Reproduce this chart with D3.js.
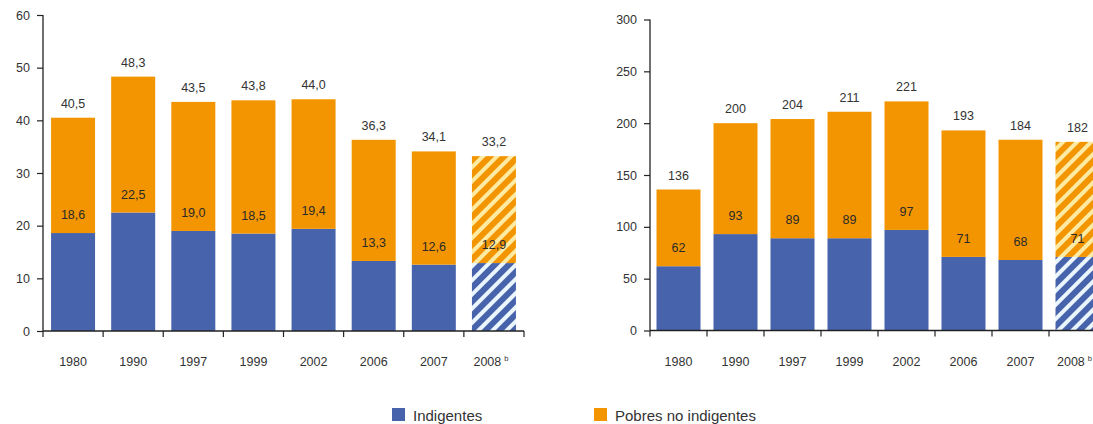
<!DOCTYPE html>
<html><head><meta charset="utf-8">
<script src="https://cdn.jsdelivr.net/npm/d3@7/dist/d3.min.js"></script>
<style>
body{margin:0;background:#fff;}
svg{display:block;font-family:"Liberation Sans",Arial,sans-serif;}
</style></head>
<body><svg id="c" width="1093" height="424"></svg>
<script>
const years = ["1980","1990","1997","1999","2002","2006","2007","2008"];
const projected = [false,false,false,false,false,false,false,true];
const leftTotal = [40.5,48.3,43.5,43.8,44.0,36.3,34.1,33.2];
const leftIndig = [18.6,22.5,19.0,18.5,19.4,13.3,12.6,12.9];
const rightTotal = [136,200,204,211,221,193,184,182];
const rightIndig = [62,93,89,89,97,71,68,71];
const leftTicks = [0,10,20,30,40,50,60];
const rightTicks = [0,50,100,150,200,250,300];
const seriesNames = ["Indigentes","Pobres no indigentes"];
const colors = ["#4763AB","#F39500"];
const lightStripe = ["#EAF5FC","#FDEBA4"];

const svg = d3.select("#c");
const defs = svg.append("defs");
colors.forEach((c,i)=>{
  const p = defs.append("pattern").attr("id","hatch"+i).attr("patternUnits","userSpaceOnUse")
    .attr("width",10).attr("height",10).attr("patternTransform","rotate(45)");
  p.append("rect").attr("width",10).attr("height",10).attr("fill",c);
  p.append("rect").attr("width",4).attr("height",10).attr("fill",lightStripe[i]);
});

function chart(cfg){
  const {x0,x1,yBottom,yTop,max,ticks,total,indig,fmt,padding} = cfg;
  const g = svg.append("g");
  const x = d3.scaleBand().domain(years).range([x0,x1]).paddingInner(padding).paddingOuter(padding/2);
  const y = d3.scaleLinear().domain([0,max]).range([yBottom,yTop]);
  const data = years.map((yr,i)=>({year:yr, indig:indig[i], pobres:total[i]-indig[i], total:total[i], proj:projected[i]}));
  const stack = d3.stack().keys(["indig","pobres"])(data);
  stack.forEach((layer,li)=>{
    g.append("g").selectAll("rect").data(layer).join("rect")
      .attr("x",d=>x(d.data.year)).attr("width",x.bandwidth())
      .attr("y",d=>y(d[1])).attr("height",d=>y(d[0])-y(d[1]))
      .attr("fill",d=>d.data.proj?`url(#hatch${li})`:colors[li]);
  });
  // y axis
  const ya = g.append("g").attr("transform",`translate(${x0},0)`)
    .call(d3.axisLeft(y).tickValues(ticks).tickSize(6).tickPadding(7).tickFormat(d3.format("d")));
  ya.select(".domain").attr("d",`M-0,${yBottom}V${yTop}`).attr("stroke","#222").attr("stroke-width",1.3);
  ya.selectAll(".tick line").attr("stroke","#222").attr("stroke-width",1.2);
  ya.selectAll(".tick text").attr("fill","#333").style("font-size","12.5px").style("font-family","Liberation Sans, Arial, sans-serif");
  // x axis
  const step = x.step();
  const xa = g.append("g").attr("transform",`translate(0,${yBottom})`);
  xa.append("line").attr("x1",x0).attr("x2",x1).attr("stroke","#222").attr("stroke-width",1.3);
  xa.selectAll("line.b").data(d3.range(years.length+1)).join("line").attr("class","b")
    .attr("x1",i=>x0+i*step).attr("x2",i=>x0+i*step).attr("y1",0).attr("y2",6)
    .attr("stroke","#222").attr("stroke-width",1.2);
  const lab = xa.selectAll("text").data(data).join("text")
    .attr("x",d=>x(d.year)+x.bandwidth()/2).attr("y",35)
    .attr("dx",d=>d.proj?-3:0)
    .attr("text-anchor","middle").attr("fill","#333").style("font-size","12.5px");
  lab.append("tspan").text(d=>d.year);
  lab.filter(d=>d.proj).append("tspan").text("b").attr("dx",3).attr("dy",-5).style("font-size","7.5px");
  // value labels
  g.append("g").selectAll("text").data(data).join("text")
    .attr("x",d=>x(d.year)+x.bandwidth()/2).attr("y",d=>y(d.total)-10)
    .attr("text-anchor","middle").attr("fill","#333").style("font-size","12.5px").text(d=>fmt(d.total));
  g.append("g").selectAll("text").data(data).join("text")
    .attr("x",d=>x(d.year)+x.bandwidth()/2).attr("y",d=>y(d.indig)-14)
    .attr("text-anchor","middle").attr("fill","#2a2a2a").style("font-size","12.5px").text(d=>fmt(d.indig));
}
const commaFmt = d => d3.format(".1f")(d).replace(".",",");
chart({x0:43,x1:524,yBottom:331,yTop:15,max:60,ticks:leftTicks,total:leftTotal,indig:leftIndig,fmt:commaFmt,padding:1-44/60.125});
chart({x0:650,x1:1106,yBottom:330.5,yTop:19.5,max:300,ticks:rightTicks,total:rightTotal,indig:rightIndig,fmt:d3.format("d"),padding:1-44/57});

// legend
const legX = [392,594];
const leg = svg.append("g").selectAll("g").data(seriesNames).join("g")
  .attr("transform",(d,i)=>`translate(${legX[i]},408)`);
leg.append("rect").attr("width",13).attr("height",13).attr("fill",(d,i)=>colors[i]);
leg.append("text").attr("x",21).attr("y",12.5).attr("fill","#333").style("font-size","15px").text(d=>d);
</script></body></html>
